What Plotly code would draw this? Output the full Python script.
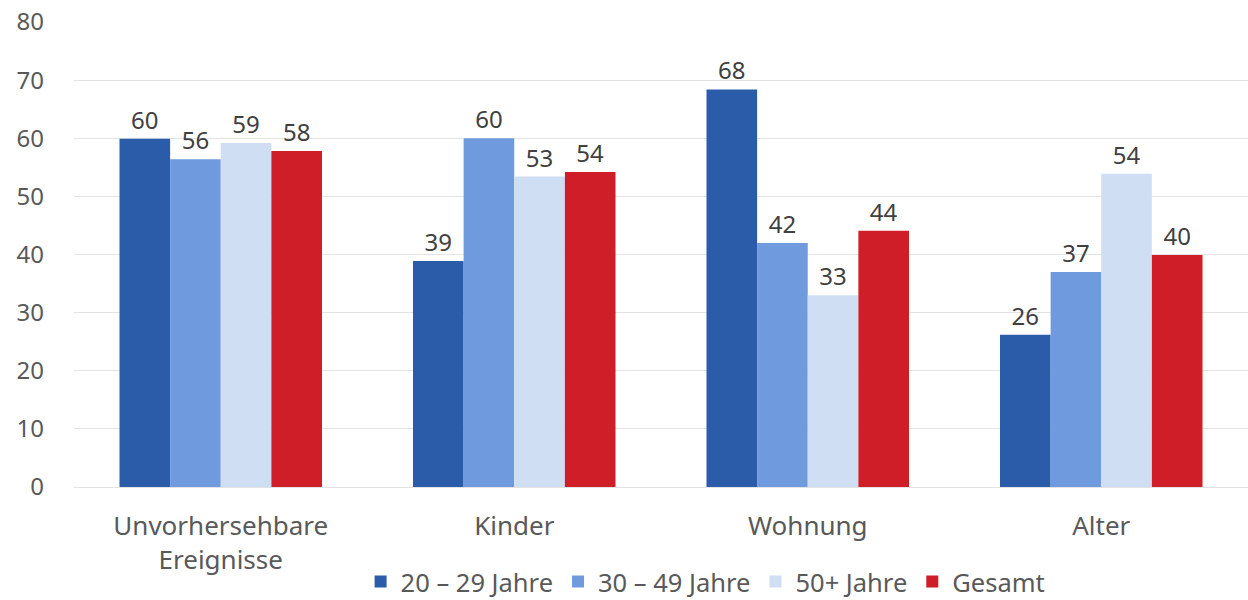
import plotly.graph_objects as go

categories = ["Unvorhersehbare<br>Ereignisse", "Kinder", "Wohnung", "Alter"]
series_names = ["20 – 29 Jahre", "30 – 49 Jahre", "50+ Jahre", "Gesamt"]
v_20_29 = [59.9, 38.9, 68.4, 26.2]
v_30_49 = [56.4, 60.0, 42.0, 37.0]
v_50plus = [59.2, 53.4, 33.0, 53.9]
v_gesamt = [57.8, 54.2, 44.1, 39.9]
colors = ["#2a5caa", "#709ade", "#cfdef3", "#cf1e28"]

font_family = "Source Sans Pro, Noto Sans, Open Sans, sans-serif"

fig = go.Figure()
for name, vals, col in zip(series_names, [v_20_29, v_30_49, v_50plus, v_gesamt], colors):
    fig.add_trace(go.Bar(
        x=categories, y=vals, name=name,
        marker=dict(color=col, line=dict(width=0)),
        texttemplate="%{y:.0f}", textposition="outside",
        textfont=dict(size=24, color="#404040", family=font_family),
        cliponaxis=False,
    ))

fig.update_layout(
    width=1248, height=600,
    barmode="group", bargap=0.31, bargroupgap=0,
    plot_bgcolor="white", paper_bgcolor="white",
    margin=dict(l=74, r=0, t=22, b=113, autoexpand=False),
    font=dict(family=font_family, color="#595959", size=24),
    legend=dict(orientation="h", x=0.538, xanchor="center", yref="container",
                y=0.03, yanchor="middle",
                font=dict(size=25.5, color="#595959"), itemwidth=30,
                traceorder="normal"),
    xaxis=dict(showgrid=False, showline=False, ticks="", automargin=False,
               ticklabelstandoff=21, tickfont=dict(size=26, color="#595959")),
    yaxis=dict(range=[0, 80], dtick=10, showgrid=True, gridcolor="#e3e3e3", gridwidth=1,
               zeroline=True, zerolinecolor="#e3e3e3", zerolinewidth=1, automargin=False,
               ticks="", ticklabelstandoff=29, tickfont=dict(size=24, color="#595959")),
)

fig.write_html("out.html", config={"displayModeBar": False},
               post_script="document.body.style.margin='0';document.body.style.overflow='hidden';")
